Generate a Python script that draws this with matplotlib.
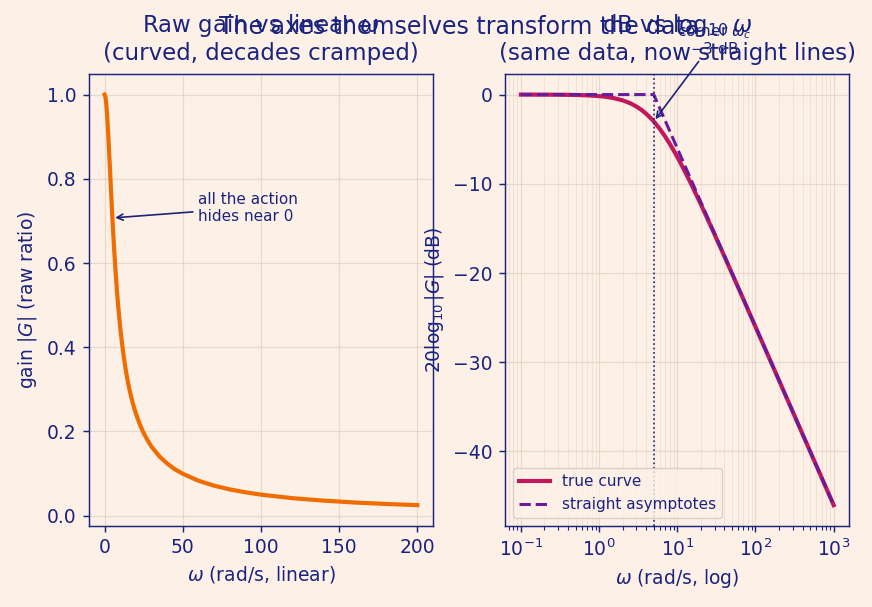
import matplotlib
matplotlib.use('Agg')
import matplotlib.pyplot as plt

# first-order low-pass, corner at 5 rad/s
omega_c = 5.0

omega_lin = [0, 0.5, 1, 1.5, 2, 2.5, 3, 3.5, 4, 4.5, 5, 5.5, 6, 6.5, 7, 7.5, 8, 8.5, 9,
             9.5, 10, 11, 12, 13, 14, 15, 16, 17, 18, 19, 20, 22.5, 25, 27.5, 30, 35,
             40, 45, 50, 60, 70, 80, 90, 100, 120, 140, 160, 180, 200]
gain_lin = [1.0, 0.995, 0.981, 0.958, 0.928, 0.894, 0.857, 0.819, 0.781, 0.743, 0.707,
            0.673, 0.640, 0.610, 0.581, 0.555, 0.530, 0.507, 0.486, 0.466, 0.447,
            0.414, 0.385, 0.359, 0.336, 0.316, 0.298, 0.282, 0.268, 0.255, 0.243,
            0.217, 0.196, 0.179, 0.164, 0.141, 0.124, 0.110, 0.0995, 0.083, 0.0712,
            0.0624, 0.0555, 0.0499, 0.0416, 0.0357, 0.0312, 0.0278, 0.025]

omega_log = [0.1, 0.2, 0.3, 0.5, 0.7, 1, 1.2, 1.5, 2, 2.5, 3, 3.5, 4, 4.5, 5, 6, 7, 8,
             9, 10, 12, 15, 20, 25, 30, 40, 50, 70, 100, 150, 200, 300, 500, 1000]
gain_db = [-0.002, -0.007, -0.016, -0.043, -0.084, -0.170, -0.243, -0.374, -0.645, -0.97,
           -1.34, -1.73, -2.15, -2.58, -3.01, -3.87, -4.71, -5.51, -6.27, -6.99, -8.30,
           -10.0, -12.30, -14.15, -15.68, -18.13, -20.04, -22.94, -26.03, -29.55,
           -32.04, -35.56, -40.00, -46.02]

asym_omega = [0.1, 5, 1000]
asym_db = [0, 0, -46.02]

bg = '#fdf1e7'
ink = '#1a237e'
plt.rcParams.update({
    'figure.facecolor': bg, 'axes.facecolor': bg, 'savefig.facecolor': bg,
    'text.color': ink, 'axes.labelcolor': ink, 'axes.edgecolor': ink,
    'xtick.color': ink, 'ytick.color': ink, 'font.size': 13,
    'xtick.labelsize': 13.5, 'ytick.labelsize': 13.5,
    'axes.titlesize': 16.5, 'axes.labelsize': 13.5, 'axes.titlepad': 10,
    'axes.linewidth': 1.05, 'axes.labelpad': 5.2,
    'xtick.major.size': 4.5, 'ytick.major.size': 4.5,
    'xtick.major.pad': 4.5, 'ytick.major.pad': 4.5,
    'xtick.minor.size': 2.6, 'ytick.minor.size': 2.6,
    'xtick.major.width': 1.05, 'ytick.major.width': 1.05,
    'xtick.minor.width': 0.8, 'ytick.minor.width': 0.8,
})

fig, (ax1, ax2) = plt.subplots(1, 2, figsize=(8.72, 6.07), dpi=100)
fig.subplots_adjust(left=0.102, right=0.974, top=0.878, bottom=0.134, wspace=0.21)

# left: raw gain, linear omega
ax1.plot(omega_lin, gain_lin, color='#ef6c00', lw=3)
ax1.grid(True, color='#d9cbbb', alpha=0.6, lw=0.9)
ax1.set_xlabel(r'$\omega$ (rad/s, linear)')
ax1.set_ylabel(r'gain $|G|$ (raw ratio)')
ax1.set_title('Raw gain vs linear $\\omega$\n(curved, decades cramped)')
ax1.annotate('all the action\nhides near 0', xy=(omega_c, 0.707), xytext=(60, 0.70),
             fontsize=11, color=ink,
             arrowprops=dict(arrowstyle='->', color=ink, lw=1.2))

# right: dB vs log omega
ax2.semilogx(omega_log, gain_db, color='#c2185b', lw=3, label='true curve')
ax2.semilogx(asym_omega, asym_db, color='#6a1b9a', lw=2.2, ls='--',
             label='straight asymptotes')
ax2.axvline(omega_c, color=ink, ls=':', lw=1.2)
ax2.grid(True, which='major', color='#d9cbbb', alpha=0.6, lw=0.9)
ax2.grid(True, which='minor', color='#d9cbbb', alpha=0.4, lw=0.7)
ax2.set_xlabel(r'$\omega$ (rad/s, log)')
ax2.set_ylabel(r'$20\log_{10}|G|$ (dB)')
ax2.set_title('dB vs $\\log_{10}\\omega$\n(same data, now straight lines)')
ax2.annotate('corner $\\omega_c$\n$-$3 dB', xy=(omega_c, -3.01), xytext=(30, 4.6),
             ha='center', fontsize=11, color=ink, linespacing=1.0,
             arrowprops=dict(arrowstyle='->', color=ink, lw=1.2))
leg = ax2.legend(loc='lower left', fontsize=11, facecolor=bg, edgecolor='#d0c8c0')
for t in leg.get_texts():
    t.set_color(ink)

fig.suptitle('The axes themselves transform the data', fontsize=17, color=ink,
             x=0.526, y=0.975)

plt.savefig('out.png', dpi=100)
plt.close('all')
